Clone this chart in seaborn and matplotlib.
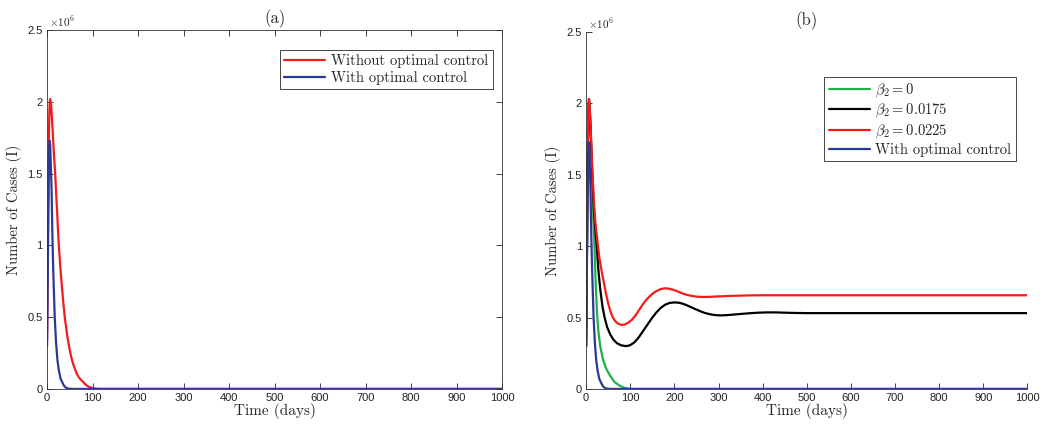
import pandas as pd
import seaborn as sns
import matplotlib.pyplot as plt
from matplotlib.ticker import FormatStrFormatter

# values, I(t) in millions of cases
# with optimal control (same in both panels)
t_ctrl = [0, 1, 2, 3, 4, 5, 6, 7, 8, 10, 12, 14, 17, 20, 23, 26, 30, 33, 37, 40, 45, 50, 60, 1000]
i_ctrl = [0.3, 0.55, 0.9, 1.25, 1.55, 1.7, 1.73, 1.7, 1.6, 1.4, 1.05, 0.8, 0.5, 0.32, 0.2, 0.13,
          0.07, 0.05, 0.025, 0.012, 0.004, 0.001, 0.0, 0.0]

# (a) without optimal control
t_noctrl = [0, 1, 2, 3, 4, 5, 6, 7, 9, 11, 13, 15, 18, 20, 22, 24, 26, 30, 35, 39, 45, 50, 55,
            60, 65, 70, 79, 85, 90, 100, 110, 120, 1000]
i_noctrl = [0.3, 0.6, 1.0, 1.4, 1.72, 1.9, 2.0, 2.02, 1.98, 1.88, 1.77, 1.65, 1.5, 1.37, 1.25,
            1.12, 1.0, 0.82, 0.63, 0.5, 0.36, 0.27, 0.2, 0.15, 0.11, 0.08, 0.05, 0.03, 0.018,
            0.005, 0.001, 0.0, 0.0]

# (b) beta_2 = 0
t_b0 = [0, 1, 2, 3, 4, 5, 6, 7, 9, 11, 13, 15, 17, 19, 22, 25, 28, 32, 38, 45, 53, 64, 75, 85,
        95, 105, 1000]
i_b0 = [0.3, 0.6, 1.0, 1.4, 1.72, 1.9, 2.0, 2.02, 1.92, 1.75, 1.55, 1.35, 1.15, 1.0, 0.72, 0.52,
        0.4, 0.3, 0.21, 0.145, 0.1, 0.05, 0.025, 0.01, 0.002, 0.0, 0.0]

# (b) beta_2 = 0.0175
t_b1 = [0, 1, 2, 3, 4, 5, 6, 7, 9, 11, 13, 15, 18, 21, 24, 28, 32, 37, 42, 48, 55, 62, 70, 80,
        90, 99, 109, 119, 129, 139, 149, 159, 169, 179, 189, 200, 210, 219, 229, 239, 249, 259,
        268, 278, 288, 297, 306, 320, 335, 350, 370, 390, 410, 430, 450, 475, 500, 1000]
i_b1 = [0.3, 0.6, 1.0, 1.4, 1.72, 1.92, 2.0, 2.0, 1.9, 1.75, 1.58, 1.43, 1.24, 1.12, 1.0, 0.83,
        0.7, 0.58, 0.5, 0.43, 0.38, 0.345, 0.32, 0.305, 0.3, 0.305, 0.325, 0.36, 0.405, 0.45,
        0.495, 0.535, 0.567, 0.59, 0.602, 0.606, 0.604, 0.597, 0.585, 0.571, 0.557, 0.544, 0.533,
        0.525, 0.519, 0.516, 0.515, 0.517, 0.521, 0.525, 0.53, 0.534, 0.536, 0.536, 0.534, 0.532,
        0.531, 0.531]

# (b) beta_2 = 0.0225
t_b2 = [0, 1, 2, 3, 4, 5, 6, 7, 9, 11, 13, 15, 18, 21, 24, 27, 30, 35, 40, 45, 50, 55, 60, 65,
        72, 80, 88, 95, 103, 111, 119, 128, 138, 148, 158, 168, 178, 188, 198, 208, 218, 228,
        238, 252, 266, 280, 300, 330, 370, 400, 1000]
i_b2 = [0.3, 0.6, 1.0, 1.4, 1.75, 1.95, 2.03, 2.03, 1.92, 1.78, 1.62, 1.48, 1.3, 1.17, 1.08, 1.0,
        0.92, 0.83, 0.75, 0.67, 0.6, 0.545, 0.505, 0.478, 0.458, 0.448, 0.452, 0.463, 0.482, 0.51,
        0.548, 0.59, 0.63, 0.66, 0.683, 0.698, 0.705, 0.702, 0.694, 0.682, 0.669, 0.659, 0.652,
        0.646, 0.644, 0.645, 0.648, 0.652, 0.655, 0.656, 0.656]

RED, BLUE, GREEN, BLACK = '#f21c1c', '#2b3896', '#1fae48', '#000000'
SERIF = 'cmr10'

plt.rcParams['mathtext.fontset'] = 'cm'
sns.set_style('ticks')
plt.rcParams['font.family'] = ['Liberation Sans', 'DejaVu Sans']
plt.rcParams['axes.unicode_minus'] = False

fig = plt.figure(figsize=(10.56, 4.26), dpi=100)
ax1 = fig.add_axes([0.0445, 0.087, 0.431, 0.842])
ax2 = fig.add_axes([0.555, 0.087, 0.418, 0.838])

df_a = pd.concat([
    pd.DataFrame({'t': t_noctrl, 'I': i_noctrl, 'case': 'Without optimal control'}),
    pd.DataFrame({'t': t_ctrl, 'I': i_ctrl, 'case': 'With optimal control'}),
])
sns.lineplot(data=df_a, x='t', y='I', hue='case', sort=False, estimator=None,
             palette=[RED, BLUE], lw=1.6, ax=ax1)

df_b = pd.concat([
    pd.DataFrame({'t': t_b0, 'I': i_b0, 'case': r'$\beta_2 = 0$'}),
    pd.DataFrame({'t': t_b1, 'I': i_b1, 'case': r'$\beta_2 = 0.0175$'}),
    pd.DataFrame({'t': t_b2, 'I': i_b2, 'case': r'$\beta_2 = 0.0225$'}),
    pd.DataFrame({'t': t_ctrl, 'I': i_ctrl, 'case': 'With optimal control'}),
])
sns.lineplot(data=df_b, x='t', y='I', hue='case', sort=False, estimator=None,
             palette=[GREEN, BLACK, RED, BLUE], lw=1.6, ax=ax2)

for ax, title in [(ax1, '(a)'), (ax2, '(b)')]:
    ax.set_xlim(0, 1000)
    ax.set_ylim(0, 2.5)
    ax.set_xticks(range(0, 1001, 100))
    ax.set_yticks([0, 0.5, 1, 1.5, 2, 2.5])
    ax.yaxis.set_major_formatter(FormatStrFormatter('%g'))
    ax.tick_params(direction='in', length=4, width=0.6, labelsize=8, pad=3, colors='#222')
    ax.set_xlabel('Time (days)', family=SERIF, fontsize=11, labelpad=0)
    ax.set_ylabel('Number of Cases (I)', family=SERIF, fontsize=10.5, labelpad=4)
    ax.set_title(title, family=SERIF, fontsize=12, pad=5)
    ax.text(0.005, 1.003, r'$\times10^6$', transform=ax.transAxes, fontsize=8,
            family='Liberation Sans', ha='left', va='bottom')
    for s in ax.spines.values():
        s.set_linewidth(0.6)
        s.set_color('#333')

# panel (a) is boxed, panel (b) is not
ax1.tick_params(top=True, right=True)
ax2.spines['top'].set_visible(False)
ax2.spines['right'].set_visible(False)

leg1 = ax1.legend(loc='upper right', bbox_to_anchor=(0.995, 0.965), prop={'family': SERIF, 'size': 10.5},
                  handlelength=2.8, handletextpad=0.4, borderpad=0.3, labelspacing=0.15,
                  fancybox=False, edgecolor='#444', framealpha=1)
leg2 = ax2.legend(loc='upper right', bbox_to_anchor=(0.99, 0.895), prop={'family': SERIF, 'size': 10.5},
                  handlelength=2.8, handletextpad=0.4, borderpad=0.3, labelspacing=0.15,
                  fancybox=False, edgecolor='#444', framealpha=1)
for leg in (leg1, leg2):
    leg.get_frame().set_linewidth(0.7)
    for h in leg.get_lines():
        h.set_linewidth(1.6)

fig.savefig('out.png', dpi=100)
